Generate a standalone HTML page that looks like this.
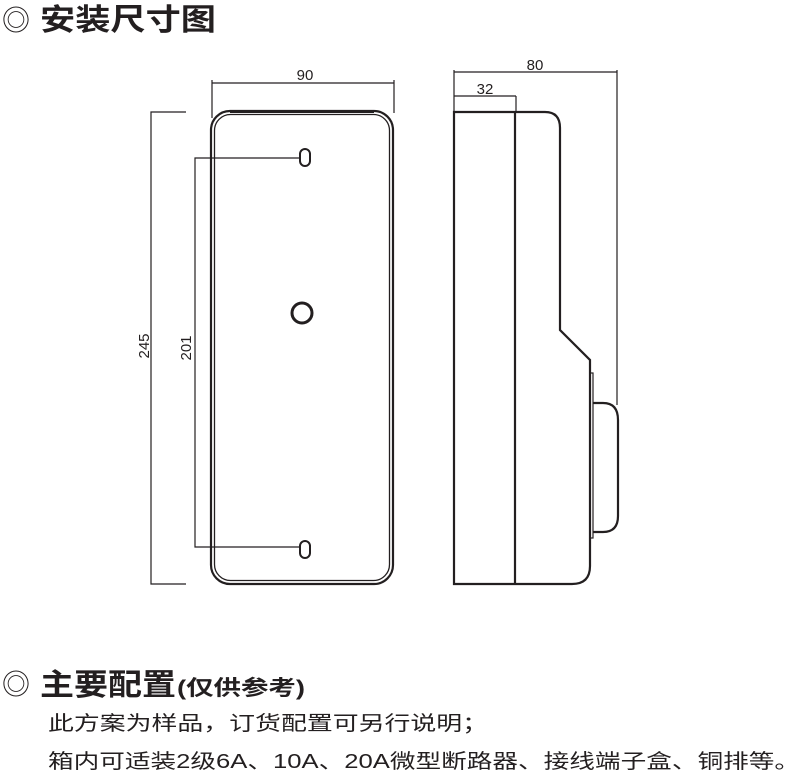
<!DOCTYPE html>
<html><head><meta charset="utf-8"><style>
body{margin:0;background:#fff}
svg{display:block}
text{font-family:"Liberation Sans","Noto Sans CJK SC",sans-serif;fill:#231f20}
</style></head><body>
<svg width="800" height="784" viewBox="0 0 800 784" xmlns="http://www.w3.org/2000/svg">
<g fill="none" stroke="#231f20">
<rect x="211" y="111" width="182" height="473" rx="19" stroke-width="2.2"/>
<rect x="214.5" y="114.5" width="175" height="466" rx="16" stroke-width="1.3"/>
<line x1="230" y1="111.5" x2="374" y2="111.5" stroke-width="3"/>
<rect x="300" y="149" width="10" height="17" rx="5" stroke-width="2"/>
<rect x="300" y="541" width="10" height="17" rx="5" stroke-width="2"/>
<circle cx="302" cy="313" r="10" stroke-width="3"/>
<line x1="212" y1="83" x2="394" y2="83" stroke-width="1.2"/>
<line x1="212" y1="80" x2="212" y2="118" stroke-width="1.2"/>
<line x1="394" y1="80" x2="394" y2="113" stroke-width="1.2"/>
<polyline points="186,112 151,112 151,584 186,584" stroke-width="1.2"/>
<polyline points="300,158 195,158 195,547 300,547" stroke-width="1.2"/>
<path d="M454,112 L545,112 Q560,112 560,128 L560,330 L590,360 L590,566 Q590,584 572,584 L454,584 Z" stroke-width="2.2"/>
<line x1="515" y1="112" x2="515" y2="584" stroke-width="2.2"/>
<rect x="590" y="373" width="3" height="165" stroke-width="1.2"/>
<path d="M593,403 L603,403 Q618,403 618,420 L618,516 Q618,532 603,532 L593,532" stroke-width="2.2"/>
<line x1="454" y1="72" x2="617" y2="72" stroke-width="1.2"/>
<line x1="454" y1="70" x2="454" y2="112" stroke-width="1.2"/>
<line x1="617" y1="70" x2="617" y2="405" stroke-width="1.2"/>
<line x1="454" y1="96" x2="516" y2="96" stroke-width="1.2"/>
<line x1="516" y1="96" x2="516" y2="112" stroke-width="1.2"/>
</g>
<text x="305" y="80" font-size="15" text-anchor="middle">90</text>
<text x="535" y="70" font-size="15" text-anchor="middle">80</text>
<text x="485" y="94" font-size="15" text-anchor="middle">32</text>
<text transform="translate(149,346) rotate(-90)" font-size="15" text-anchor="middle">245</text>
<text transform="translate(191,348) rotate(-90)" font-size="15" text-anchor="middle">201</text>
<text x="2" y="30" font-size="28">◎</text>
<text x="40" y="30" font-size="30" font-weight="bold" textLength="176" lengthAdjust="spacingAndGlyphs">安装尺寸图</text>
<text x="2" y="694" font-size="28">◎</text>
<text x="40" y="695" font-size="30" font-weight="bold" textLength="136" lengthAdjust="spacingAndGlyphs">主要配置</text>
<text x="177" y="695" font-size="21" font-weight="bold" textLength="128" lengthAdjust="spacingAndGlyphs">(仅供参考)</text>
<text x="48" y="730" font-size="20" textLength="440" lengthAdjust="spacingAndGlyphs">此方案为样品，订货配置可另行说明；</text>
<text x="48" y="768" font-size="20" textLength="752" lengthAdjust="spacingAndGlyphs">箱内可适装2级6A、10A、20A微型断路器、接线端子盒、铜排等。</text>
</svg>
</body></html>
